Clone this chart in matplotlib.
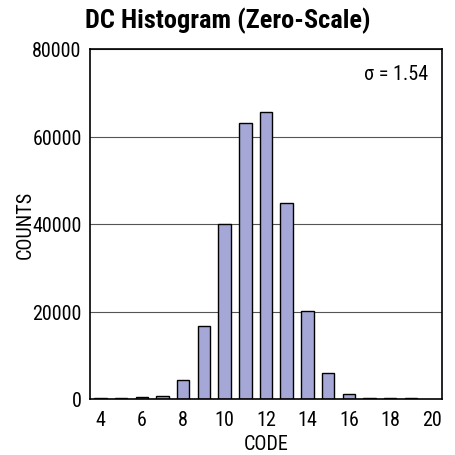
import matplotlib
matplotlib.use("Agg")
import matplotlib.pyplot as plt

codes = [4, 5, 6, 7, 8, 9, 10, 11, 12, 13, 14, 15, 16, 17, 18, 19]
counts = [150, 150, 400, 760, 4400, 16600, 39900, 63200, 65600, 44700, 20200, 6000, 1150, 300, 250, 300]
xticks = [4, 6, 8, 10, 12, 14, 16, 18, 20]
yticks = [0, 20000, 40000, 60000, 80000]

fam = ["Liberation Sans Narrow", "Roboto Condensed", "Liberation Sans", "DejaVu Sans"]
plt.rcParams['font.family'] = fam

fig = plt.figure(figsize=(4.55, 4.56), dpi=100)
ax = fig.add_axes([90/455, 1 - 400/456, 352/455, 350/456])
ax.set_axisbelow(True)
ax.yaxis.grid(True, color="#555555", linewidth=0.8)
ax.bar(codes, counts, width=0.6, color="#a5a8d6", edgecolor="black", linewidth=1.0)
ax.set_xlim(3.5, 20.5)
ax.set_ylim(0, 80000)
ax.set_xticks(xticks)
ax.set_yticks(yticks)
ax.tick_params(axis="x", length=0, labelsize=14.5, pad=8)
ax.tick_params(axis="y", length=0, labelsize=14.5, pad=6)
for s in ax.spines.values():
    s.set_linewidth(1.2)
ax.set_xlabel("CODE", fontsize=14.5, va="center")
ax.set_ylabel("COUNTS", fontsize=14.5, va="center")
ax.xaxis.set_label_coords(0.5, (400 - 445) / 350)
ax.yaxis.set_label_coords((25 - 90) / 352, 0.5)
ax.text(0.96, 0.93, "σ = 1.54", transform=ax.transAxes, ha="right", va="center", fontsize=14.5)
fig.text(0.5, 1 - 21/456, "DC Histogram (Zero-Scale)", ha="center", va="center", fontsize=19, fontweight="bold")
fig.savefig("out.png", dpi=100)
